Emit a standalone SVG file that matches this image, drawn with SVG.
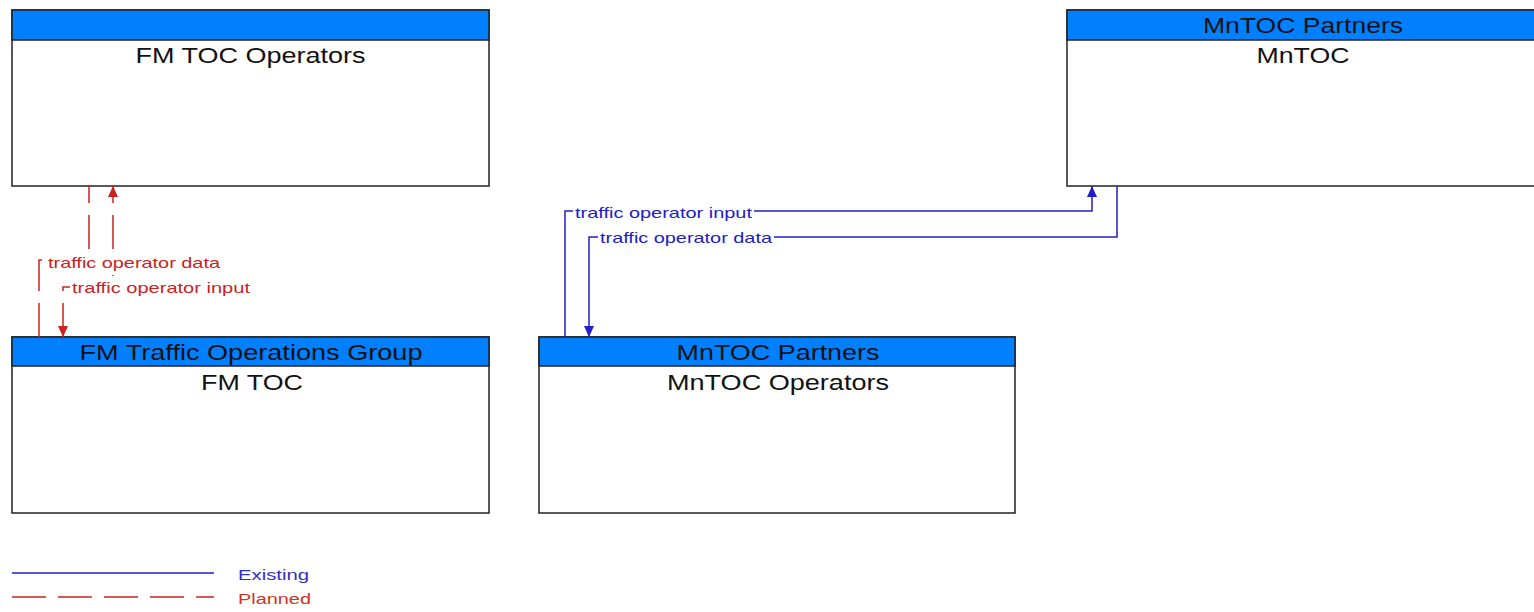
<svg xmlns="http://www.w3.org/2000/svg" width="1534" height="612" viewBox="0 0 1534 612">
<style>
.box{fill:#fff;stroke:#222;stroke-width:1.5}
.hdr{fill:#0080ff;stroke:#222;stroke-width:1.5}
.t{font-family:"Liberation Sans",Arial,sans-serif;font-size:22px;fill:#111;text-anchor:middle}
.lbl{font-family:"Liberation Sans",Arial,sans-serif;font-size:15px}
.ex{fill:none;stroke:#2020c8;stroke-width:1.5}
.pl{fill:none;stroke:#cc2222;stroke-width:1.5;stroke-dasharray:34 12}
.bg{fill:#fff}
</style>
<defs>
<marker id="ab" markerUnits="userSpaceOnUse" markerWidth="12" markerHeight="12" refX="11" refY="5" orient="auto-start-reverse"><path d="M0,0 L11,5 L0,10 Z" fill="#2020c8"/></marker>
<marker id="ar" markerUnits="userSpaceOnUse" markerWidth="12" markerHeight="12" refX="11" refY="5" orient="auto-start-reverse"><path d="M0,0 L11,5 L0,10 Z" fill="#cc2222"/></marker>
</defs>
<rect width="1534" height="612" fill="#fff"/>
<g id="node-fm-toc-operators">
<rect class="box" x="12" y="10" width="477" height="176"/>
<rect class="hdr" x="12" y="10" width="477" height="30"/>
<text class="t" x="250.5" y="63" textLength="230" lengthAdjust="spacingAndGlyphs">FM TOC Operators</text>
</g>
<g id="node-fm-toc">
<rect class="box" x="12" y="337" width="477" height="176"/>
<rect class="hdr" x="12" y="337" width="477" height="29"/>
<text class="t" x="251" y="360" textLength="343" lengthAdjust="spacingAndGlyphs">FM Traffic Operations Group</text>
<text class="t" x="252" y="390" textLength="102" lengthAdjust="spacingAndGlyphs">FM TOC</text>
</g>
<g id="node-mntoc-operators">
<rect class="box" x="539" y="337" width="476" height="176"/>
<rect class="hdr" x="539" y="337" width="476" height="29"/>
<text class="t" x="778" y="360" textLength="203" lengthAdjust="spacingAndGlyphs">MnTOC Partners</text>
<text class="t" x="778" y="390" textLength="222" lengthAdjust="spacingAndGlyphs">MnTOC Operators</text>
</g>
<g id="node-mntoc">
<rect class="box" x="1067" y="10" width="474" height="176"/>
<rect class="hdr" x="1067" y="10" width="474" height="30"/>
<text class="t" x="1303" y="33" textLength="200" lengthAdjust="spacingAndGlyphs">MnTOC Partners</text>
<text class="t" x="1303" y="63" textLength="93" lengthAdjust="spacingAndGlyphs">MnTOC</text>
</g>
<g id="connectors">
<path class="pl" d="M39,337 V260 H89 V186"/>
<path class="pl" d="M63,337 V287 H113 V186" marker-start="url(#ar)" marker-end="url(#ar)"/>
<path class="ex" d="M565,337 V211 H1092 V186" marker-end="url(#ab)"/>
<path class="ex" d="M1117,186 V237 H589 V337" marker-end="url(#ab)"/>
<rect class="bg" x="46" y="250" width="177" height="25"/>
<rect class="bg" x="70" y="276" width="182" height="24"/>
<rect class="bg" x="573" y="204" width="181" height="17"/>
<rect class="bg" x="598" y="229" width="176" height="17"/>
<text class="lbl" x="48" y="268" fill="#cc2222" textLength="172" lengthAdjust="spacingAndGlyphs">traffic operator data</text>
<text class="lbl" x="72" y="293" fill="#cc2222" textLength="178" lengthAdjust="spacingAndGlyphs">traffic operator input</text>
<text class="lbl" x="575" y="218" fill="#2020c8" textLength="177" lengthAdjust="spacingAndGlyphs">traffic operator input</text>
<text class="lbl" x="600" y="243" fill="#2020c8" textLength="172" lengthAdjust="spacingAndGlyphs">traffic operator data</text>
</g>
<g id="legend">
<line class="ex" x1="12" y1="573" x2="214" y2="573"/>
<line class="pl" x1="12" y1="597" x2="214" y2="597"/>
<text class="lbl" x="238" y="580" fill="#3030c8" textLength="71" lengthAdjust="spacingAndGlyphs">Existing</text>
<text class="lbl" x="238" y="604" fill="#cc3322" textLength="73" lengthAdjust="spacingAndGlyphs">Planned</text>
</g>
</svg>
